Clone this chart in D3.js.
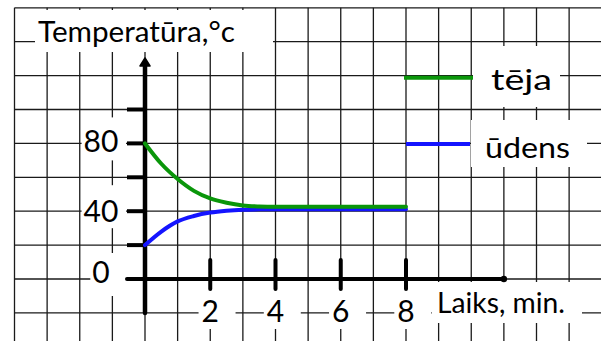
<!DOCTYPE html>
<html>
<head>
<meta charset="utf-8">
<script src="https://cdn.jsdelivr.net/npm/d3@7"></script>
<style>
  html, body { margin: 0; padding: 0; background: #fff; }
  svg { display: block; }
  text { font-family: "Comic Sans MS", "Lato", sans-serif; fill: #000; }
</style>
</head>
<body>
<div id="chart"></div>
<script>
// time (min) and temperatures
const minutes = [0, 0.5, 1, 1.5, 2, 2.5, 3, 3.5, 4, 5, 6, 7, 8];
const teja    = [80, 68, 59, 52, 47.5, 45, 43.4, 42.8, 42.6, 42.6, 42.6, 42.6, 42.6];
const udens   = [20, 28, 34, 37.2, 39.2, 40.3, 40.9, 41.1, 41.2, 41.2, 41.2, 41.2, 41.2];

const yTicks = [0, 20, 40, 60, 80, 100];
const yLabels = [0, 40, 80];
const xTicks = [2, 4, 6, 8];

const seriesNames = ['tēja', 'ūdens'];
const seriesColors = ['#0a960a', '#1414ff'];

const W = 601, H = 341;
const svg = d3.select('#chart').append('svg').attr('width', W).attr('height', H);
svg.append('rect').attr('width', W).attr('height', H).attr('fill', '#fff');

const x = d3.scaleLinear().domain([0, 8]).range([145, 406]);
const y = d3.scaleLinear().domain([0, 100]).range([279, 109.5]);

// squared paper
const grid = svg.append('g').attr('stroke', '#1a1a1a').attr('stroke-width', 1.3);
const gridTop = y(160);
grid.selectAll('.v').data(d3.range(-4, 14)).enter().append('line')
  .attr('x1', d => x(d)).attr('x2', d => x(d))
  .attr('y1', gridTop).attr('y2', H);
grid.selectAll('.h').data(d3.range(-20, 161, 20)).enter().append('line')
  .attr('x1', x(-4)).attr('x2', W)
  .attr('y1', d => y(d)).attr('y2', d => y(d));

// white label boxes over the paper
const boxes = svg.append('g').attr('fill', '#fff');
function box(x0, y0, w, h) { boxes.append('rect').attr('x', x0).attr('y', y0).attr('width', w).attr('height', h); }
box(35, 10, 238, 42);
box(473, 46, 87, 61);
box(471, 120, 116, 47);
box(432, 282, 150, 41);

const txt = svg.append('g');

txt.append('text').attr('x', 38).attr('y', 42).attr('font-size', 29)
  .attr('textLength', 197).attr('lengthAdjust', 'spacingAndGlyphs')
  .text('Temperatūra,°c');

// y labels
const yLabelDy = { 0: 4, 40: 11, 80: 9 };
yLabels.forEach(v => {
  const t = txt.append('text').attr('x', 101).attr('y', y(v) + yLabelDy[v])
    .attr('text-anchor', 'middle').attr('font-size', 30).text(v);
  const b = t.node().getBBox();
  box(b.x - 2, y(v) - 26, 126 - (b.x - 2), 43);
});

// x labels
xTicks.forEach(v => {
  const t = txt.append('text').attr('x', x(v)).attr('y', 322)
    .attr('text-anchor', 'middle').attr('font-size', 30).text(v);
  const b = t.node().getBBox();
  box(b.x - 3, 283, 37, 46);
});

txt.append('text').attr('x', 437).attr('y', 313).attr('font-size', 28)
  .attr('textLength', 128).attr('lengthAdjust', 'spacingAndGlyphs')
  .text('Laiks, min.');

// axes
const ax = svg.append('g').attr('stroke', '#000').attr('stroke-linecap', 'round');
ax.append('line').attr('x1', x(0)).attr('x2', x(0)).attr('y1', 63).attr('y2', y(-20)).attr('stroke-width', 4.5);
ax.append('line').attr('x1', 127).attr('x2', x(11)).attr('y1', y(0)).attr('y2', y(0)).attr('stroke-width', 4);
ax.selectAll('.yt').data(yTicks).enter().append('line')
  .attr('x1', 127).attr('x2', x(0)).attr('y1', d => y(d)).attr('y2', d => y(d))
  .attr('stroke-width', 4).attr('stroke-linecap', 'butt');
ax.selectAll('.xt').data(xTicks).enter().append('line')
  .attr('x1', d => x(d)).attr('x2', d => x(d)).attr('y1', 260).attr('y2', 289)
  .attr('stroke-width', 4);
svg.append('path')
  .attr('d', `M${x(0) - 5},66 L${x(0)},58 L${x(0) + 5},66 Z`)
  .attr('fill', '#000').attr('stroke', '#000').attr('stroke-width', 1.5).attr('stroke-linejoin', 'round');
svg.append('circle').attr('cx', x(11)).attr('cy', y(0)).attr('r', 3.2).attr('fill', '#000');

// curves
const line = d3.line().x((d, i) => x(minutes[i])).y(d => y(d)).curve(d3.curveMonotoneX);
[udens, teja].forEach((s, k) => {
  svg.append('path').datum(s).attr('d', line)
    .attr('fill', 'none').attr('stroke', seriesColors[1 - k])
    .attr('stroke-width', 4).attr('stroke-linecap', 'round');
});

// legend
const legend = [
  { name: seriesNames[0], color: seriesColors[0], x1: 404, x2: 473, y: 77.7, tx: 491, ty: 90, tw: 61 },
  { name: seriesNames[1], color: seriesColors[1], x1: 406, x2: 470, y: 144, tx: 485, ty: 158, tw: 85 }
];
legend.forEach(l => {
  svg.append('line').attr('x1', l.x1).attr('x2', l.x2).attr('y1', l.y).attr('y2', l.y)
    .attr('stroke', l.color).attr('stroke-width', 4);
  svg.append('text').attr('x', l.tx).attr('y', l.ty).attr('font-size', 29)
    .attr('textLength', l.tw).attr('lengthAdjust', 'spacingAndGlyphs').text(l.name);
});
</script>
</body>
</html>
